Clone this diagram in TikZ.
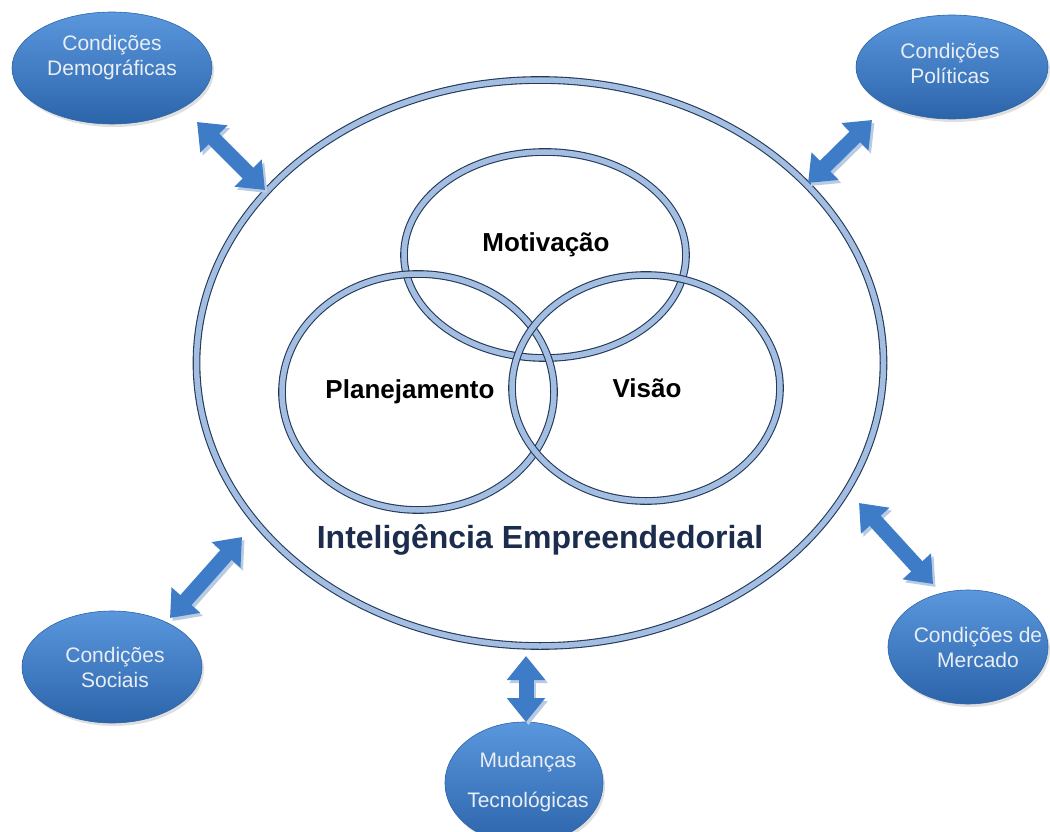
\documentclass[tikz,border=0pt]{standalone}
\usepackage{fontspec}
\setmainfont{Liberation Sans}
\usetikzlibrary{shapes.geometric,arrows.meta,shadows}
\definecolor{ringdark}{HTML}{24395A}
\definecolor{ringlight}{HTML}{A3BEE0}
\definecolor{boxtop}{HTML}{5A97DD}
\definecolor{boxbot}{HTML}{2C64AA}
\definecolor{arrowblue}{HTML}{3E7CC8}
\definecolor{arrowshade}{HTML}{B9CBE2}
\definecolor{titlenavy}{HTML}{1B2C4C}
\definecolor{softwhite}{HTML}{E9EEF5}
\tikzset{
  ring/.style={ellipse, draw=ringdark, line width=1.1pt, double=ringlight, double distance=5.5pt, inner sep=0pt},
  outer/.style={ellipse, inner sep=0pt, top color=boxtop, bottom color=boxbot, draw=boxbot, line width=0.6pt,
    drop shadow={shadow xshift=2pt, shadow yshift=-3pt, opacity=0.25}},
  outertext/.style={text=softwhite, font=\fontsize{21}{25}\selectfont, align=center},
  venntext/.style={font=\fontsize{26}{30}\selectfont\bfseries},
  link/.style={line width=15pt, draw=arrowblue, {Triangle[width=37pt,length=24pt]}-{Triangle[width=37pt,length=24pt]}},
  linkshadow/.style={line width=15pt, draw=arrowshade, {Triangle[width=37pt,length=24pt]}-{Triangle[width=37pt,length=24pt]},
    transform canvas={shift={(2.5pt,-3pt)}}}
}
\begin{document}
\begin{tikzpicture}[x=1pt,y=-1pt]
\useasboundingbox[fill=white] (0,0) rectangle (1050,832);

% main ellipse and Venn rings
\node[ring, minimum width=687pt, minimum height=566pt] (big) at (540,363) {};
\node[ring, minimum width=282pt, minimum height=206pt] (mot) at (545,255) {};
\node[ring, minimum width=272pt, minimum height=236pt] (plan) at (418,392) {};
\node[ring, minimum width=268pt, minimum height=226pt] (vis) at (646,388) {};

\node[venntext] (motT) at (546,245) {Motivação};
\node[venntext] (planT) at (410,392) {Planejamento};
\node[venntext] (visT) at (647,388) {Visão};
\node[font=\fontsize{32}{37}\selectfont\bfseries, text=titlenavy] (title) at (540,540) {Inteligência Empreendedorial};

% outer condition ellipses
\node[outer, minimum width=200pt, minimum height=112pt] (demo) at (112,68) {};
\node[outertext] (demoT) at (112,58) {Condições\\Demográficas};
\node[outer, minimum width=192pt, minimum height=104pt] (pol) at (952,67) {};
\node[outertext] (polT) at (950,63) {Condições\\Políticas};
\node[outer, minimum width=180pt, minimum height=112pt] (soc) at (112,667) {};
\node[outertext] (socT) at (115,667) {Condições\\Sociais};
\node[outer, minimum width=160pt, minimum height=114pt] (merc) at (968,647) {};
\node[outertext] (mercT) at (978,647) {Condições de\\Mercado};
\node[outer, minimum width=158pt, minimum height=122pt] (mud) at (524,783) {};
\node[outertext, font=\fontsize{21}{40}\selectfont] (mudT) at (528,782) {Mudanças\\Tecnológicas};

% arrow end points
\coordinate (a1s) at (197,122); \coordinate (a1e) at (265,190);
\coordinate (a2s) at (872,120); \coordinate (a2e) at (808,183);
\coordinate (a3s) at (242,537); \coordinate (a3e) at (170,618);
\coordinate (a4s) at (526,656); \coordinate (a4e) at (526,722);
\coordinate (a5s) at (859,503); \coordinate (a5e) at (933,584);

\foreach \s/\e in {a1s/a1e,a2s/a2e,a3s/a3e,a4s/a4e,a5s/a5e}{
  \draw[linkshadow] (\s) -- (\e);
}
\foreach \s/\e in {a1s/a1e,a2s/a2e,a3s/a3e,a4s/a4e,a5s/a5e}{
  \draw[link] (\s) -- (\e);
}
\end{tikzpicture}
\end{document}
